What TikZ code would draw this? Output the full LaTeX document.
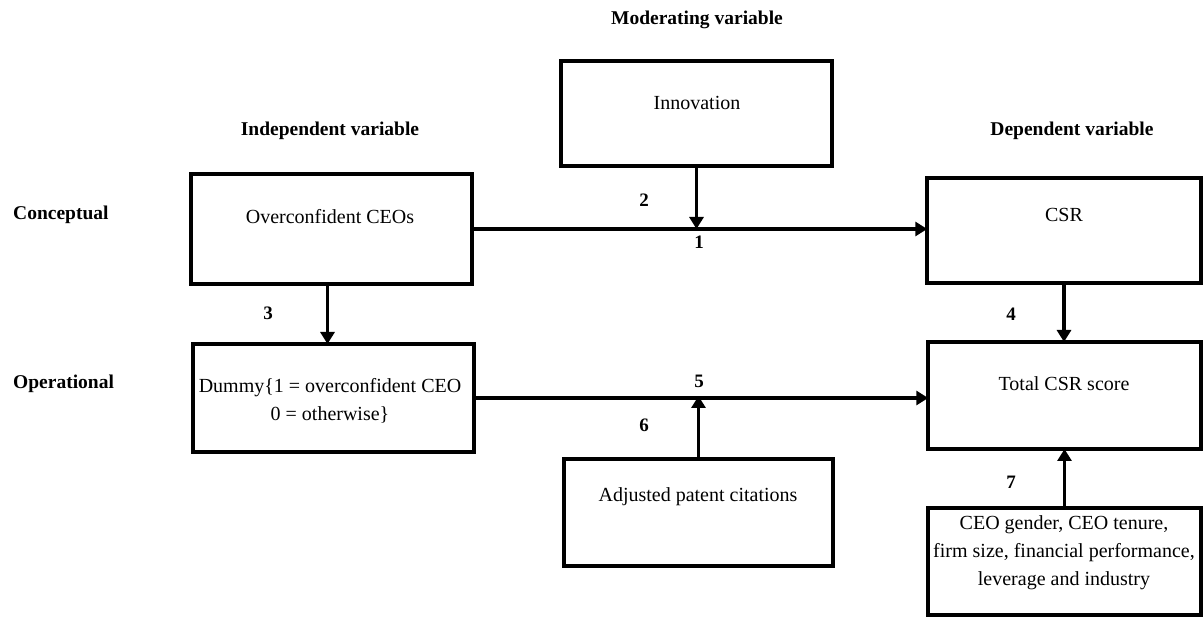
\documentclass[tikz,border=0pt]{standalone}
\usepackage{fontspec}
\setmainfont{Liberation Serif}
\usetikzlibrary{arrows.meta}
\tikzset{
  box/.style={draw, line width=4pt, inner sep=0pt, outer sep=0pt},
  txt/.style={inner sep=0pt, font=\fontsize{20}{28}\selectfont, align=center},
  hdr/.style={inner sep=0pt, font=\fontsize{19.5}{24}\selectfont\bfseries},
  num/.style={inner sep=0pt, font=\fontsize{19}{24}\selectfont\bfseries},
  arr/.style={line width=3.5pt, -{Triangle[width=14pt,length=12pt]}},
}
\begin{document}
\begin{tikzpicture}[x=1pt,y=-1pt]
\useasboundingbox (0,0) rectangle (1203,617);
% boxes
\node[box, minimum width=271pt, minimum height=105pt] (inn) at (696.5,113.5) {};
\node[box, minimum width=281pt, minimum height=110pt] (oc) at (331.5,229) {};
\node[box, minimum width=281pt, minimum height=108pt] (dum) at (333.5,398) {};
\node[box, minimum width=273.5pt, minimum height=105pt] (csr) at (1064,230.5) {};
\node[box, minimum width=272.5pt, minimum height=107pt] (tot) at (1064.5,395.5) {};
\node[box, minimum width=272.5pt, minimum height=107pt] (ctrl) at (1064.5,561.5) {};
\node[box, minimum width=269pt, minimum height=107pt] (apc) at (698.5,512.5) {};
% box texts
\node[txt] (tinn) at (697,103) {Innovation};
\node[txt] (toc) at (330,217) {Overconfident CEOs};
\node[txt] (tdum) at (330,401) {Dummy\{1 = overconfident CEO\\0 = otherwise\}};
\node[txt] (tcsr) at (1064,215) {CSR};
\node[txt] (ttot) at (1064,384) {Total CSR score};
\node[txt] (tctrl) at (1064,553) {CEO gender, CEO tenure,\\firm size, financial performance,\\leverage and industry};
\node[txt] (tapc) at (698,497) {Adjusted patent citations};
% headers
\node[hdr] (hmod) at (697,20) {Moderating variable};
\node[hdr] (hind) at (330,131) {Independent variable};
\node[hdr] (hdep) at (1072,131) {Dependent variable};
\node[hdr, anchor=west] (hcon) at (13,215) {Conceptual};
\node[hdr, anchor=west] (hop) at (13,384) {Operational};
% arrows
\draw[arr] (oc.east) -- (oc.east -| csr.west);
\coordinate (j1) at (oc.east -| inn.south);
\draw[arr] (inn.south) -- (j1);
\draw[arr] (dum.east) -- (dum.east -| tot.west);
\coordinate (j5) at (dum.east -| apc.north);
\draw[arr] (apc.north) -- ([yshift=2pt]j5);
\draw[arr] ([xshift=-4pt]oc.south) -- ([xshift=-4pt]oc.south |- dum.north);
\draw[arr] (csr.south) -- (csr.south |- tot.north);
\draw[arr] (ctrl.north) -- (ctrl.north |- tot.south);
% numbers
\node[num] (n1) at (699,242) {1};
\node[num] (n2) at (644,200) {2};
\node[num] (n3) at (268,313) {3};
\node[num] (n4) at (1011,314) {4};
\node[num] (n5) at (699,381) {5};
\node[num] (n6) at (644,425) {6};
\node[num] (n7) at (1011,482) {7};
\end{tikzpicture}
\end{document}
